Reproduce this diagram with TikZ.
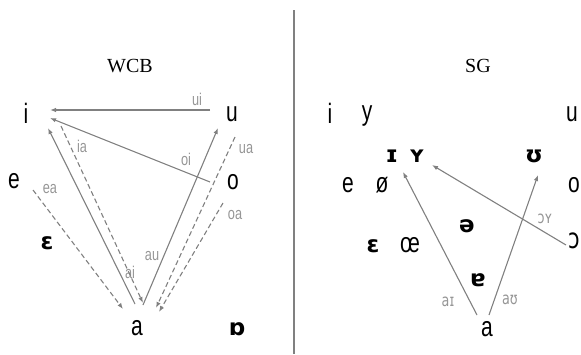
\documentclass[tikz,border=0pt]{standalone}
\usepackage{fontspec}
\usetikzlibrary{arrows.meta}
\newfontfamily\vfam[FakeStretch=0.75]{Liberation Sans}
\newfontfamily\ipafam[FakeStretch=0.75]{DejaVu Sans}
\newfontfamily\bipafam{DejaVu Sans}
\newfontfamily\tfam{Liberation Serif}
\definecolor{linegray}{RGB}{128,128,128}
\definecolor{labgray}{RGB}{150,150,150}
\tikzset{
  vow/.style={font=\vfam\fontsize{28}{30}\selectfont, inner sep=0pt, anchor=base},
  ivow/.style={font=\ipafam\fontsize{28}{30}\selectfont, inner sep=0pt, anchor=base},
  bvow/.style={font=\bipafam\bfseries\fontsize{23}{25}\selectfont, inner sep=0pt, anchor=base},
  lab/.style={font=\vfam\fontsize{17}{19}\selectfont, text=labgray, inner sep=0pt, anchor=base},
  ilab/.style={font=\ipafam\fontsize{17}{19}\selectfont, text=labgray, inner sep=0pt, anchor=base},
  ttl/.style={font=\tfam\fontsize{20}{22}\selectfont, inner sep=0pt, anchor=base},
  con/.style={draw=linegray, line width=1.1pt, -{Latex[length=6pt,width=4.5pt]}},
  dcon/.style={con, dash pattern=on 5pt off 3pt},
}
\begin{document}
\begin{tikzpicture}[x=1pt,y=-1pt]
\useasboundingbox (0,0) rectangle (581,354);
% divider
\coordinate (divtop) at (294,10);
\coordinate (divbot) at (294,354);
\draw[linegray, line width=1.5pt] (divtop) -- (divbot);

% ---------- WCB ----------
\node[ttl] (wcb) at (130,72) {WCB};
\node[vow] (li) at (26,123) {i};
\node[vow] (lu) at (232,121) {u};
\node[vow] (le) at (14,188) {e};
\node[vow] (lo) at (233,189) {o};
\node[bvow] (leps) at (47,249) {ɛ};
\node[vow] (la) at (137,335) {a};
\node[bvow] (lopen) at (237,335) {ɒ};

\node[lab] (lui) at (197,105) {ui};
\node[lab] (lia) at (82,152) {ia};
\node[lab] (loi) at (186,165) {oi};
\node[lab] (lua) at (246,153) {ua};
\node[lab] (lea) at (50,193) {ea};
\node[lab] (loa) at (235,219) {oa};
\node[lab] (lau) at (152,260) {au};
\node[lab] (lai) at (130,278) {ai};

\coordinate (ui-s) at (210,110);  \coordinate (ui-e) at (50,110);
\coordinate (oi-s) at (210,182);  \coordinate (oi-e) at (50,118);
\coordinate (ai-s) at (135,304);  \coordinate (ai-e) at (48,128);
\coordinate (ia-s) at (61,126);   \coordinate (ia-e) at (143,303);
\coordinate (au-s) at (143,305);  \coordinate (au-e) at (218,128);
\coordinate (ua-s) at (235,137);  \coordinate (ua-e) at (156,308);
\coordinate (oa-s) at (223,203);  \coordinate (oa-e) at (159,312);
\coordinate (ea-s) at (33,190);   \coordinate (ea-e) at (123,309);

\draw[con] (ui-s) -- (ui-e);
\draw[con] (oi-s) -- (oi-e);
\draw[con] (ai-s) -- (ai-e);
\draw[con] (au-s) -- (au-e);
\draw[dcon] (ia-s) -- (ia-e);
\draw[dcon] (ua-s) -- (ua-e);
\draw[dcon] (oa-s) -- (oa-e);
\draw[dcon] (ea-s) -- (ea-e);

% ---------- SG ----------
\node[ttl] (sg) at (478,72) {SG};
\node[vow] (ri) at (330,123) {i};
\node[vow] (ry) at (367,120) {y};
\node[vow] (ru) at (572,121) {u};
\node[bvow] (rI) at (392,162) {ɪ};
\node[bvow] (rY) at (417,162) {ʏ};
\node[bvow] (rU) at (534,162) {ʊ};
\node[vow] (re) at (348,192) {e};
\node[vow] (roe) at (382,192) {ø};
\node[vow] (ro) at (574,192) {o};
\node[bvow] (rschwa) at (467,232) {ə};
\node[bvow] (reps) at (373,252) {ɛ};
\node[vow] (rOE) at (410,252) {œ};
\node[ivow] (ropen) at (574,248) {ɔ};
\node[bvow] (rturna) at (478,286) {ɐ};
\node[vow] (ra) at (487,336) {a};

\node[ilab] (roy) at (545,223) {ɔʏ};
\node[ilab] (raI) at (448,306) {aɪ};
\node[ilab] (raU) at (510,304) {aʊ};

\coordinate (aI-s) at (477,315); \coordinate (aI-e) at (403,172);
\coordinate (oY-s) at (566,245); \coordinate (oY-e) at (432,165);
\coordinate (aU-s) at (489,315); \coordinate (aU-e) at (538,175);
\draw[con] (aI-s) -- (aI-e);
\draw[con] (oY-s) -- (oY-e);
\draw[con] (aU-s) -- (aU-e);
\end{tikzpicture}
\end{document}
